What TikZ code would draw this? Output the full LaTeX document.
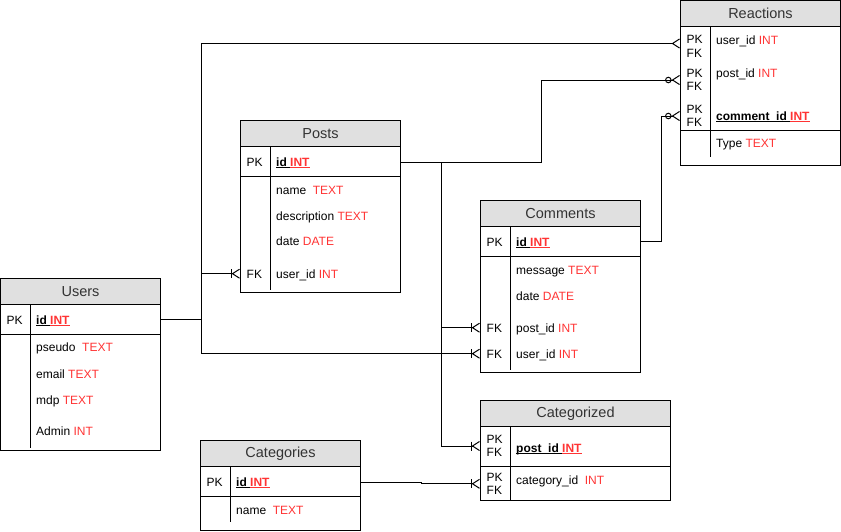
\documentclass[tikz,border=0pt]{standalone}
\usepackage{fontspec}
\setmainfont{Liberation Sans}
\usetikzlibrary{arrows.meta}

\definecolor{ttlgray}{HTML}{E0E0E0}
\definecolor{ttltext}{HTML}{333333}
\definecolor{typered}{HTML}{FF3333}

\newcommand{\keyul}[1]{\setbox0=\hbox{#1}\rlap{\rule[-1.6pt]{\wd0}{0.8pt}}\box0}
\newcommand{\typ}[1]{\textcolor{typered}{#1}}

\tikzset{
  tbl/.style={draw, line width=1pt, inner sep=0pt},
  ttl/.style={draw, fill=ttlgray, line width=1pt, inner sep=0pt, text=ttltext,
              font=\fontsize{14.5}{17}\selectfont},
  fld/.style={anchor=west, inner sep=0pt, text height=8.7pt, text depth=0pt,
              font=\fontsize{12}{13.5}\selectfont},
  keys/.style={anchor=west, inner sep=0pt, align=left, font=\fontsize{12}{13.5}\selectfont},
  conn/.style={line width=1pt},
  many/.style={conn, -{Straight Barb[reversed,length=7pt,width=9pt]}},
  onemany/.style={conn, -{Bar[width=9pt] Straight Barb[reversed,length=7pt,width=9pt]}},
  zeromany/.style={conn, -{Circle[open,length=6.5pt,width=6.5pt,line width=1pt] Straight Barb[reversed,length=7pt,width=9pt]}},
}

\begin{document}
\begin{tikzpicture}[x=1pt, y=-1pt]
      \useasboundingbox (0,0) rectangle (841,531);

      % Users
      \node[tbl, minimum width=160pt, minimum height=172pt] (users) at (80.5,364.5) {};
      \node[ttl, minimum width=160pt, minimum height=26pt, anchor=north] (usersT) at (users.north) {Users};
      \draw[line width=1pt] (0.5,334.5) -- (160.5,334.5);
      \draw[line width=1pt] (30.5,304.5) -- (30.5,447.5);
      \node[fld] (usersPK)    at (6.5,319.7) {PK};
      \node[fld] (usersId)    at (36,319.7)  {\textbf{\keyul{id }\typ{\keyul{INT}}}};
      \node[fld] (usersPseudo) at (36,347)   {pseudo~ \typ{TEXT}};
      \node[fld] (usersEmail) at (36,373.7)  {email \typ{TEXT}};
      \node[fld] (usersMdp)   at (36,399.7)  {mdp \typ{TEXT}};
      \node[fld] (usersAdmin) at (36,431)    {Admin \typ{INT}};

      % Posts
      \node[tbl, minimum width=160pt, minimum height=172pt] (posts) at (320.5,206.5) {};
      \node[ttl, minimum width=160pt, minimum height=26pt, anchor=north] (postsT) at (posts.north) {Posts};
      \draw[line width=1pt] (240.5,176.5) -- (400.5,176.5);
      \draw[line width=1pt] (270.5,146.5) -- (270.5,289.5);
      \node[fld] (postsPK)    at (246.5,162)  {PK};
      \node[fld] (postsId)    at (276,162)    {\textbf{\keyul{id }\typ{\keyul{INT}}}};
      \node[fld] (postsName)  at (276,190)    {name~ \typ{TEXT}};
      \node[fld] (postsDesc)  at (276,216)    {description \typ{TEXT}};
      \node[fld] (postsDate)  at (276,241)    {date \typ{DATE}};
      \node[fld] (postsFK)    at (246.5,273.7) {FK};
      \node[fld] (postsUser)  at (276,273.7)  {user\_id \typ{INT}};

      % Comments
      \node[tbl, minimum width=160pt, minimum height=172pt] (comments) at (560.5,286.5) {};
      \node[ttl, minimum width=160pt, minimum height=26pt, anchor=north] (commentsT) at (comments.north) {Comments};
      \draw[line width=1pt] (480.5,256.5) -- (640.5,256.5);
      \draw[line width=1pt] (510.5,226.5) -- (510.5,369.5);
      \node[fld] (comPK)      at (486.5,241.7) {PK};
      \node[fld] (comId)      at (516,241.7)   {\textbf{\keyul{id }\typ{\keyul{INT}}}};
      \node[fld] (comMsg)     at (516,270)     {message \typ{TEXT}};
      \node[fld] (comDate)    at (516,295.7)   {date \typ{DATE}};
      \node[fld] (comPostFK)  at (486.5,327.7) {FK};
      \node[fld] (comPost)    at (516,327.7)   {post\_id \typ{INT}};
      \node[fld] (comUserFK)  at (486.5,353.7) {FK};
      \node[fld] (comUser)    at (516,353.7)   {user\_id \typ{INT}};

      % Reactions
      \node[tbl, minimum width=160pt, minimum height=165pt] (reactions) at (760.5,83) {};
      \node[ttl, minimum width=160pt, minimum height=26pt, anchor=north] (reactionsT) at (reactions.north) {Reactions};
      \draw[line width=1pt] (680.5,130.5) -- (840.5,130.5);
      \draw[line width=1pt] (710.5,26.5) -- (710.5,156.5);
      \node[keys] (reactUserK) at (686.5,46.5) {PK\\FK};
      \node[fld]  (reactUser)  at (716,40)     {user\_id \typ{INT}};
      \node[keys] (reactPostK) at (686.5,80)   {PK\\FK};
      \node[fld]  (reactPost)  at (716,73)     {post\_id \typ{INT}};
      \node[keys] (reactComK)  at (686.5,116)  {PK\\FK};
      \node[fld]  (reactCom)   at (716,116)    {\textbf{\keyul{comment\_id }\typ{\keyul{INT}}}};
      \node[fld]  (reactType)  at (716,143)    {Type \typ{TEXT}};

      % Categorized
      \node[tbl, minimum width=190pt, minimum height=100pt] (categorized) at (575.5,450.5) {};
      \node[ttl, minimum width=190pt, minimum height=26pt, anchor=north] (categorizedT) at (categorized.north) {Categorized};
      \draw[line width=1pt] (480.5,466.5) -- (670.5,466.5);
      \draw[line width=1pt] (510.5,426.5) -- (510.5,500.5);
      \node[keys] (catzPostK) at (486.5,446)   {PK\\FK};
      \node[fld]  (catzPost)  at (516,447.7)   {\textbf{\keyul{post\_id }\typ{\keyul{INT}}}};
      \node[keys] (catzCatK)  at (486.5,483.8) {PK\\FK};
      \node[fld]  (catzCat)   at (516,480)     {category\_id~ \typ{INT}};

      % Categories
      \node[tbl, minimum width=160pt, minimum height=90pt] (categories) at (280.5,485.5) {};
      \node[ttl, minimum width=160pt, minimum height=26pt, anchor=north] (categoriesT) at (categories.north) {Categories};
      \draw[line width=1pt] (200.5,496.5) -- (360.5,496.5);
      \draw[line width=1pt] (230.5,466.5) -- (230.5,521.5);
      \node[fld] (catsPK)   at (206.5,482.3) {PK};
      \node[fld] (catsId)   at (236,482.3)   {\textbf{\keyul{id }\typ{\keyul{INT}}}};
      \node[fld] (catsName) at (236,509.7)   {name~ \typ{TEXT}};

      % relations
      \draw[many]     (usersId -| users.east) -- ++(40,0) |- ([yshift=3pt]reactUserK.west -| reactions.west);
      \draw[onemany]  (usersId -| users.east) -- ++(40,0) |- (postsUser -| posts.west);
      \draw[onemany]  (usersId -| users.east) -- ++(40,0) |- (comUser -| comments.west);

      \draw[onemany]  (postsId -| posts.east) -- ++(40,0) |- (comPost -| comments.west);
      \draw[onemany]  (postsId -| posts.east) -- ++(40,0) |- (catzPostK -| categorized.west);
      \draw[zeromany] (postsId -| posts.east) -- ++(140,0) |- (reactPostK -| reactions.west);

      \draw[zeromany] (comId -| comments.east) -- ++(20,0) |- (reactComK -| reactions.west);

      \draw[onemany]  (catsId -| categories.east) -- ++(60,0) |- (catzCatK -| categorized.west);
\end{tikzpicture}
\end{document}
